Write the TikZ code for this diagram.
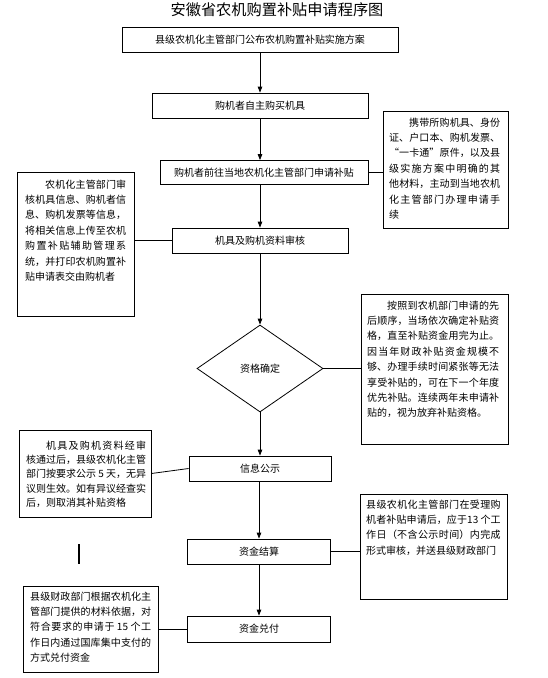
\documentclass[tikz,border=0pt]{standalone}
\usepackage{fontspec}
\setmainfont{Noto Sans CJK SC}
\usetikzlibrary{arrows.meta,shapes.geometric}
\XeTeXlinebreaklocale "zh"
\XeTeXlinebreakskip=0pt plus 3pt
\begin{document}
\begin{tikzpicture}[x=1pt,y=-1pt,
  box/.style={draw,line width=0.8pt,minimum height=25pt,inner sep=0pt,font=\fontsize{10}{12}\selectfont},
  notebox/.style={draw,line width=0.8pt,inner sep=0pt},
  notetext/.style={anchor=north west,inner sep=0pt,align=justify,font=\fontsize{10}{15.4}\selectfont},
  link/.style={line width=0.8pt},
  flow/.style={line width=0.8pt,-{Triangle[length=6pt,width=4.5pt]}}]
\useasboundingbox (0,0) rectangle (547,678);
\node (title) at (277,10) {\fontsize{15.2}{18}\selectfont 安徽省农机购置补贴申请程序图};
% main flow
\node[box,minimum width=276pt] (b1) at (260,39.5) {县级农机化主管部门公布农机购置补贴实施方案};
\node[box,minimum width=216pt] (b2) at (260,105.5) {购机者自主购买机具};
\node[box,minimum width=208pt,minimum height=24pt] (b3) at (264,172.5) {购机者前往当地农机化主管部门申请补贴};
\node[box,minimum width=176pt] (b4) at (260,240.5) {机具及购机资料审核};
\node[diamond,draw,line width=0.8pt,inner sep=0pt,minimum width=126pt,minimum height=87pt,font=\fontsize{10}{12}\selectfont] (d) at (260,368.5) {资格确定};
\node[box,minimum width=142pt] (b5) at (260,468.5) {信息公示};
\node[box,minimum width=143pt] (b6) at (259,551.5) {资金结算};
\node[box,minimum width=143pt,minimum height=26pt] (b7) at (259,629) {资金兑付};
% notes
\node[notebox,minimum width=125pt,minimum height=117pt] (r1) at (445.5,169.5) {};
\node[notetext,text width=111pt] (r1t) at (389,117.5) {\hspace*{20pt}携带所购机具、身份\linebreak 证、户口本、购机发票、\linebreak “一卡通”原件，以及县\linebreak 级实施方案中明确的其\linebreak 他材料，主动到当地农机\linebreak 化主管部门办理申请手\linebreak 续};
\node[notebox,minimum width=117pt,minimum height=144pt] (l1) at (75.5,244) {};
\node[notetext,text width=101pt] (l1t) at (25,179.5) {\hspace*{20pt}农机化主管部门审\linebreak 核机具信息、购机者信\linebreak 息、购机发票等信息，\linebreak 将相关信息上传至农机\linebreak 购置补贴辅助管理系\linebreak 统，并打印农机购置补\linebreak 贴申请表交由购机者};
\node[notebox,minimum width=147pt,minimum height=150pt] (r2) at (434.5,369) {};
\node[notetext,text width=132pt] (r2t) at (367,300.5) {\hspace*{20pt}按照到农机部门申请的先\linebreak 后顺序，当场依次确定补贴资\linebreak 格，直至补贴资金用完为止。\linebreak 因当年财政补贴资金规模不\linebreak 够、办理手续时间紧张等无法\linebreak 享受补贴的，可在下一个年度\linebreak 优先补贴。连续两年未申请补\linebreak 贴的，视为放弃补贴资格。};
\node[notebox,minimum width=132pt,minimum height=87pt] (l2) at (85,473.5) {};
\node[notetext,text width=120pt,font=\fontsize{10}{14.3}\selectfont] (l2t) at (26,440.5) {\hspace*{20pt}机具及购机资料经审\linebreak 核通过后，县级农机化主管\linebreak 部门按要求公示 5 天，无异\linebreak 议则生效。如有异议经查实\linebreak 后，则取消其补贴资格};
\node[notebox,minimum width=147pt,minimum height=105pt] (r3) at (433.5,546.5) {};
\node[notetext,text width=134.5pt] (r3t) at (366,499.5) {县级农机化主管部门在受理购\linebreak 机者补贴申请后，应于13 个工\linebreak 作日（不含公示时间）内完成\linebreak 形式审核，并送县级财政部门};
\node[notebox,minimum width=135pt,minimum height=86pt] (l3) at (90.5,629) {};
\node[notetext,text width=121pt] (l3t) at (30,591.5) {县级财政部门根据农机化主\linebreak 管部门提供的材料依据，对\linebreak 符合要求的申请于 15 个工\linebreak 作日内通过国库集中支付的\linebreak 方式兑付资金};
% flow arrows
\draw[flow] (b1.south) -- (b1.south |- b2.north);
\draw[flow] (b2.south) -- (b2.south |- b3.north);
\draw[flow] (b4.north |- b3.south) -- (b4.north);
\draw[flow] (b4.south) -- (d.north);
\draw[flow] (d.south) -- (b5.north);
\draw[flow] (b6.north |- b5.south) -- (b6.north);
\draw[flow] (b6.south) -- (b7.north);
% side links
\draw[link] (b3.east) -- (b3.east -| r1.west);
\draw[link] (b4.west) -- (b4.west -| l1.east);
\draw[link] (d.east) -- (d.east -| r2.west);
\draw[link] (b5.west) -- (l2.east);
\draw[link] (b6.east) -- (b6.east -| r3.west);
\draw[link] (b7.west) -- (b7.west -| l3.east);
% stray bar
\coordinate (bart) at (79,544);
\coordinate (barb) at (79,564);
\draw[line width=2.2pt] (bart) -- (barb);
\end{tikzpicture}
\end{document}
